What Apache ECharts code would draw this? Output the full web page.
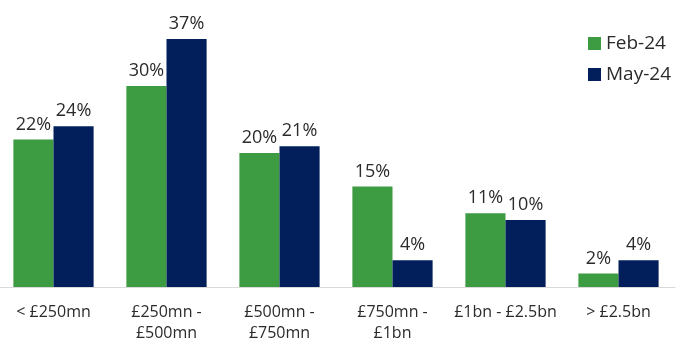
<!DOCTYPE html>
<html><head><meta charset="utf-8">
<script src="https://cdn.jsdelivr.net/npm/echarts@6/dist/echarts.min.js"></script>
<style>html,body{margin:0;padding:0;background:#fff}#c{width:677px;height:340px}</style>
</head><body><div id="c"></div>
<script>
const categories = ['< £250mn', '£250mn -\n£500mn', '£500mn -\n£750mn', '£750mn -\n£1bn', '£1bn - £2.5bn', '> £2.5bn'];
const feb24 = [22, 30, 20, 15, 11, 2];
const may24 = [24, 37, 21, 4, 10, 4];
const seriesNames = ['Feb-24', 'May-24'];
const FONT = '"Open Sans", Lato, sans-serif';
const chart = echarts.init(document.getElementById('c'));
const lbl = {show: true, position: 'top', distance: 6, formatter: '{c}%', color: '#2b2b2b', fontSize: 18, fontFamily: FONT};
chart.setOption({
  animation: false,
  grid: {left: -3, width: 678, top: 19, bottom: 53, containLabel: false, outerBoundsMode: 'none'},
  legend: {
    orient: 'vertical', left: 583, top: 29, itemWidth: 13, itemHeight: 13, itemGap: 12,
    icon: 'rect',
    textStyle: {fontSize: 19, color: '#2b2b2b', fontFamily: FONT},
    data: seriesNames
  },
  xAxis: {
    type: 'category', data: categories,
    axisLine: {lineStyle: {color: '#d9d9d9', width: 1}},
    axisTick: {show: false},
    axisLabel: {color: '#2b2b2b', fontSize: 16, fontFamily: FONT, lineHeight: 21, margin: 15, interval: 0}
  },
  yAxis: {type: 'value', min: 0, max: 40, show: false, splitLine: {show: false}},
  series: [
    {name: seriesNames[0], type: 'bar', data: feb24, barGap: '0%', barCategoryGap: '29%', itemStyle: {color: '#3D9B41'}, label: lbl},
    {name: seriesNames[1], type: 'bar', data: may24, barGap: '0%', barCategoryGap: '29%', itemStyle: {color: '#021F5C'}, label: lbl}
  ]
});
</script></body></html>
